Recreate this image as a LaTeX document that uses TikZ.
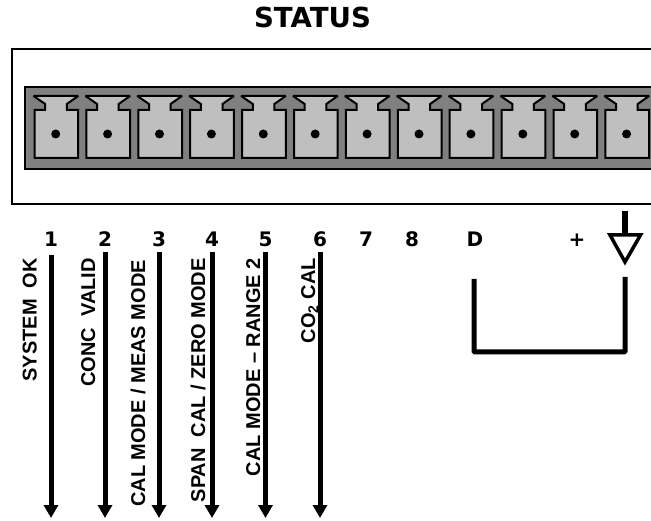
\documentclass[tikz,border=0pt]{standalone}
\usepackage{fontspec}
\setmainfont{Liberation Sans}
\newfontfamily\numfont{DejaVu Sans}
\usetikzlibrary{arrows.meta,positioning}

\begin{document}
\begin{tikzpicture}[x=1pt, y=-1pt, line join=miter]

    \tikzset{
        pin/.style      = {draw=black, line width=2pt, miter limit=3, fill=black!25},
        numlabel/.style = {font=\numfont\bfseries\fontsize{20}{22}\selectfont, anchor=base, inner sep=2pt},
        siglabel/.style = {font=\bfseries\fontsize{20}{22}\selectfont, rotate=90, anchor=base east, inner sep=0pt},
        sigline/.style  = {line width=5pt, -{Triangle[length=13pt, width=14pt]}},
        wire/.style     = {line width=5pt}
    }

    \useasboundingbox (0,0) rectangle (651,521);

    \node (title) [font=\numfont\bfseries\fontsize{27.6}{30}\selectfont, anchor=base, inner sep=0pt] at (312.5,28) {STATUS};

    % housing, open at the right edge
    \draw[line width=1.3pt] (651,49) -- (12,49) -- (12,204) -- (651,204);
    \draw[line width=1.2pt, fill=black!50] (651,87) -- (25,87) -- (25,169) -- (651,169);

    % terminals
    \foreach \i in {0,...,11} {
        \begin{scope}[shift={({33.5+51.9*\i},96)}]
            \draw[pin] (0,0) -- (11.7,8) -- (11.7,14) -- (1,14) -- (1,62) -- (44.7,62)
                -- (44.7,14) -- (33.3,14) -- (33.3,8) -- (44.7,0) -- cycle;
            \fill (22.2,38) circle (4.5);
        \end{scope}
    }

    % numbers along the bottom
    \foreach \name/\x/\txt in {n1/51/1, n2/105/2, n3/159/3, n4/212/4, n5/265.5/5, n6/320/6, n7/366/7, n8/412/8, nd/475/D, nplus/577/+}
        \node (\name) [numlabel] at (\x,247) {\txt};

    % signal lines
    \foreach \i/\gap in {1/6, 2/3, 3/3, 4/3, 5/3, 6/3} {
        \coordinate (t\i) at (n\i |- 0,518);
        \draw[sigline, shorten <=\gap pt] (n\i.south) -- (t\i);
    }

    \node (sys)  [siglabel] at (36.7,258) {SYSTEM\ \ OK};
    \node (conc) [siglabel] at (95,258)   {CONC\ \ VALID};
    \node (meas) [siglabel] at (145,260)  {CAL MODE / MEAS MODE};
    \node (zero) [siglabel] at (205,258)  {SPAN\ \ CAL / ZERO MODE};
    \node (rng)  [siglabel] at (260,258)  {CAL MODE – RANGE 2};
    \node (coo)  [siglabel] at (315,258)  {CO\textsubscript{2} CAL};

    % ground symbol and loop
    \coordinate (gtop) at (625,211);
    \coordinate (gbar) at (625,235);
    \coordinate (lend) at (625,277);
    \coordinate (lbeg) at (474,279);
    \draw[line width=5.5pt] (gtop) -- (gbar);
    \draw[line width=3.5pt] (610,235) -- (640.5,235) -- (625,262) -- cycle;
    \draw[wire, rounded corners=1pt] (lbeg) -- (lbeg |- 0,352) -- (lend |- 0,352) -- (lend);

\end{tikzpicture}
\end{document}
